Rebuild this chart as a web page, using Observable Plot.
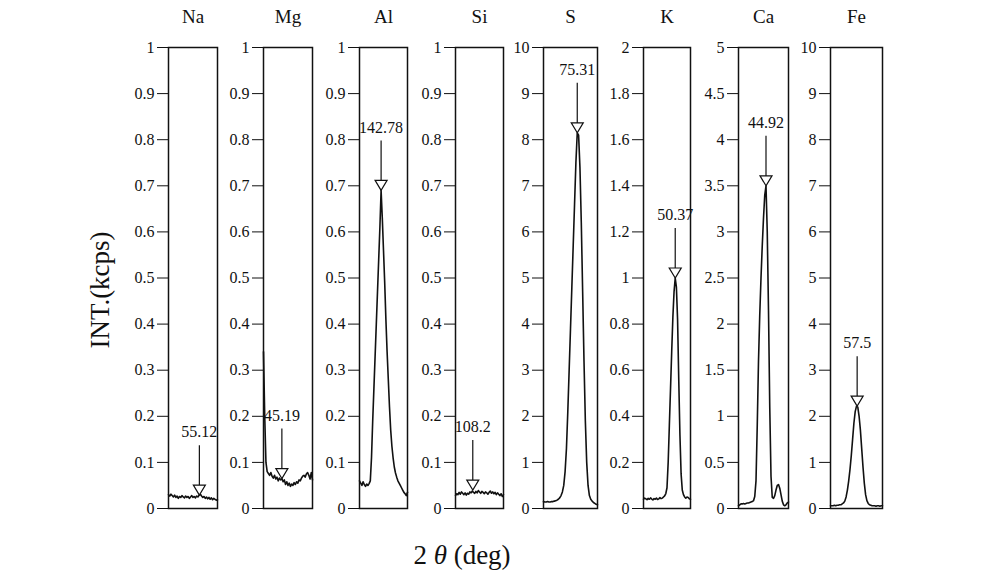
<!DOCTYPE html>
<html><head><meta charset="utf-8">
<script src="https://cdn.jsdelivr.net/npm/d3@7"></script>
<script src="https://cdn.jsdelivr.net/npm/@observablehq/plot@0.6"></script>
<style>
html,body{margin:0;padding:0;background:#fff;}
#fig{position:relative;width:1004px;height:575px;overflow:hidden;font-family:"Liberation Serif","Times New Roman",serif;color:#111;background:#fff;}
#ylab{position:absolute;left:100px;top:290px;transform:translate(-50%,-50%) rotate(-90deg);font-size:27px;white-space:nowrap;}
#xlab{position:absolute;left:462px;top:555px;transform:translate(-50%,-50%);font-size:27px;white-space:nowrap;}
</style></head><body>
<div id="fig"><div id="ylab">INT.(kcps)</div><div id="xlab">2 <i>θ</i> (deg)</div></div>
<script>
// ---- data ----
const elements = ["Na","Mg","Al","Si","S","K","Ca","Fe"];
const peakPositions = [55.12, 45.19, 142.78, 108.2, 75.31, 50.37, 44.92, 57.5];
const peakLabels = ["55.12","45.19","142.78","108.2","75.31","50.37","44.92","57.5"];
const peakIntensities = [0.029, 0.065, 0.69, 0.04, 8.15, 1.0, 3.5, 2.22];
const yMax = [1, 1, 1, 1, 10, 2, 5, 10];
const scanStart = [53.86, 44.44, 141.88, 107.48, 74.06, 49.02, 43.82, 56.475];
const scanStep = 0.05;

const intNa = [0.030,0.027,0.031,0.028,0.025,0.029,0.024,0.027,0.022,0.026,
  0.024,0.028,0.025,0.023,0.027,0.024,0.026,0.022,0.025,0.028,
  0.024,0.026,0.023,0.027,0.025,0.029,0.031,0.027,0.024,0.026,
  0.022,0.025,0.021,0.024,0.020,0.023,0.019,0.022,0.020,0.018,0.019];
const intMg = [0.34,0.2,0.1,0.08,0.076,0.072,0.078,0.07,0.066,0.072,
  0.064,0.068,0.06,0.066,0.062,0.065,0.058,0.062,0.052,0.058,
  0.05,0.055,0.048,0.053,0.05,0.056,0.052,0.058,0.055,0.062,
  0.06,0.066,0.07,0.072,0.068,0.075,0.078,0.072,0.064,0.078,0.062];
const intAl = [0.06,0.055,0.05,0.058,0.052,0.048,0.053,0.05,0.054,0.06,
  0.11,0.19,0.26,0.33,0.40,0.47,0.54,0.61,0.69,0.63,
  0.56,0.49,0.41,0.34,0.28,0.22,0.17,0.135,0.11,0.09,
  0.077,0.068,0.06,0.055,0.05,0.045,0.04,0.035,0.032,0.028,0.035];
const intSi = [0.028,0.032,0.03,0.035,0.031,0.036,0.033,0.03,0.034,0.029,
  0.033,0.031,0.036,0.034,0.038,0.035,0.033,0.037,0.034,0.039,
  0.036,0.033,0.037,0.035,0.032,0.036,0.034,0.031,0.035,0.038,
  0.033,0.036,0.032,0.035,0.03,0.034,0.031,0.028,0.032,0.026,0.03];
const intS = [0.15,0.14,0.14,0.15,0.14,0.14,0.15,0.15,0.16,0.17,
  0.18,0.2,0.23,0.28,0.36,0.5,0.8,1.3,2.1,3.0,
  3.9,4.8,5.7,6.6,7.5,8.15,8.1,7.4,6.2,4.7,
  3.2,1.9,1.0,0.5,0.28,0.2,0.16,0.13,0.11,0.09,0.08];
const intK = [0.04,0.045,0.042,0.038,0.044,0.04,0.046,0.041,0.037,0.043,
  0.04,0.045,0.039,0.042,0.047,0.043,0.045,0.05,0.055,0.065,
  0.09,0.2,0.36,0.52,0.68,0.83,0.94,1.0,0.96,0.82,
  0.56,0.32,0.15,0.08,0.06,0.05,0.045,0.05,0.048,0.042,0.04];
const intCa = [0.03,0.04,0.05,0.05,0.055,0.05,0.055,0.06,0.06,0.065,
  0.07,0.075,0.085,0.13,0.3,0.9,1.6,2.1,2.5,2.85,
  3.15,3.4,3.5,3.0,2.15,1.1,0.35,0.12,0.11,0.14,
  0.2,0.25,0.26,0.22,0.15,0.08,0.04,0.03,0.04,0.06,0.07];
const intFe = [0.06,0.06,0.06,0.07,0.06,0.07,0.07,0.08,0.08,0.1,
  0.12,0.16,0.25,0.4,0.6,0.85,1.15,1.5,1.85,2.1,
  2.22,2.2,2.0,1.7,1.3,0.9,0.55,0.3,0.17,0.11,
  0.08,0.07,0.06,0.06,0.06,0.05,0.06,0.06,0.05,0.06,0.06];
const intensities = [intNa,intMg,intAl,intSi,intS,intK,intCa,intFe];

const ticksUnit = [0,0.1,0.2,0.3,0.4,0.5,0.6,0.7,0.8,0.9,1];
const ticksTen = [0,1,2,3,4,5,6,7,8,9,10];
const ticksTwo = [0,0.2,0.4,0.6,0.8,1,1.2,1.4,1.6,1.8,2];
const ticksFive = [0,0.5,1,1.5,2,2.5,3,3.5,4,4.5,5];
const tickSets = [ticksUnit,ticksUnit,ticksUnit,ticksUnit,ticksTen,ticksTwo,ticksFive,ticksTen];

// ---- layout ----
const frameLeft = [168,263,359,455,543,643,738,830];
const frameWidth = [49,49,48,48,54,47,50,52];
const ML = 52, MR = 8, MT = 47, MB = 14, H = 461;
const ink = "#111";

const arrowSymbol = {
  draw(ctx) {
    ctx.moveTo(0, 0);
    ctx.lineTo(-6, -10);
    ctx.lineTo(6, -10);
    ctx.closePath();
    ctx.moveTo(0, -10);
    ctx.lineTo(0, -50);
  }
};

const fig = document.getElementById("fig");
elements.forEach((el, k) => {
  const data = intensities[k].map((v, i) => ({theta: scanStart[k] + i * scanStep, int: v}));
  const ann = [{x: peakPositions[k], y: peakIntensities[k], t: peakLabels[k]}];
  const plot = Plot.plot({
    width: ML + frameWidth[k] + MR,
    height: MT + H + MB,
    marginLeft: ML, marginRight: MR, marginTop: MT, marginBottom: MB,
    style: {fontFamily: '"Liberation Serif","Times New Roman",serif', fontSize: "16px", color: ink, background: "transparent", overflow: "visible"},
    x: {axis: null, domain: d3.extent(data, d => d.theta)},
    y: {domain: [0, yMax[k]], ticks: tickSets[k], tickFormat: d => String(d), tickSize: 11, tickPadding: 3, label: null},
    marks: [
      Plot.line(data, {x: "theta", y: "int", stroke: ink, strokeWidth: 1.6}),
      Plot.frame({stroke: ink, strokeWidth: 1.5}),
      Plot.dot(ann, {x: "x", y: "y", symbol: arrowSymbol, stroke: ink, fill: "white", strokeWidth: 1.2}),
      Plot.text(ann, {x: "x", y: "y", text: "t", dy: -63, fontSize: 16, fill: ink}),
      Plot.text([el], {frameAnchor: "top", dy: -38, fontSize: 19, fill: ink})
    ]
  });
  plot.style.position = "absolute";
  plot.style.left = (frameLeft[k] - ML) + "px";
  plot.style.top = "0px";
  fig.appendChild(plot);
});
</script>
</body></html>
